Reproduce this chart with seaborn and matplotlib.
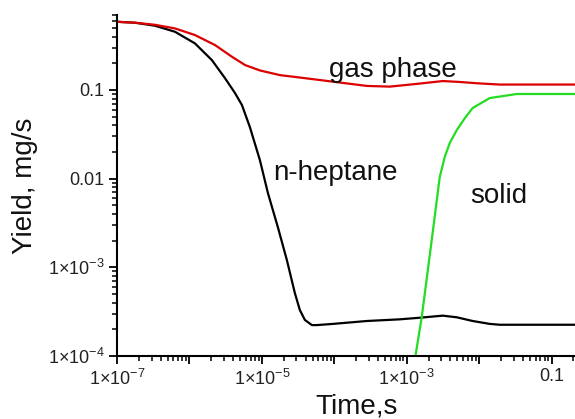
import numpy as np
import pandas as pd
import matplotlib
matplotlib.use('Agg')
import matplotlib.pyplot as plt
import matplotlib.ticker as mticker
import seaborn as sns

sns.set_theme(style='ticks')
plt.rcParams['font.family'] = ['Liberation Sans', 'DejaVu Sans']
plt.rcParams['mathtext.fontset'] = 'custom'
plt.rcParams['mathtext.rm'] = 'Liberation Sans'
plt.rcParams['mathtext.it'] = 'Liberation Sans:italic'
plt.rcParams['mathtext.bf'] = 'Liberation Sans:bold'

# n-heptane (black)
heptane_t = [1e-7, 1.77e-7, 3.34e-7, 6.31e-7, 1.19e-6, 2.04e-6, 3.09e-6, 4.25e-6,
             5.30e-6, 6.82e-6, 9.38e-6, 1.21e-5, 1.66e-5, 2.21e-5, 2.85e-5,
             3.34e-5, 3.92e-5, 4.90e-5, 5.74e-5, 9.53e-5, 2.81e-4, 8.0e-4,
             1.51e-3, 3.14e-3, 4.90e-3, 8.13e-3, 0.014, 0.0192, 0.21]
heptane_y = [0.587, 0.573, 0.530, 0.453, 0.335, 0.217, 0.136, 0.0923,
             0.0676, 0.0382, 0.0162, 0.00689, 0.00284, 0.00121, 5.13e-4,
             3.30e-4, 2.55e-4, 2.23e-4, 2.23e-4, 2.30e-4, 2.48e-4, 2.59e-4,
             2.70e-4, 2.85e-4, 2.73e-4, 2.48e-4, 2.30e-4, 2.25e-4, 2.25e-4]

# gas phase (red)
gas_t = [1e-7, 1.77e-7, 3.34e-7, 6.31e-7, 1.19e-6, 2.25e-6, 3.85e-6, 5.84e-6,
         9.38e-6, 1.77e-5, 3.34e-5, 9.53e-5, 2.81e-4, 5.83e-4, 1.37e-3,
         3.14e-3, 5.38e-3, 9.25e-3, 0.0192, 0.21]
gas_y = [0.587, 0.573, 0.543, 0.494, 0.416, 0.321, 0.237, 0.191,
         0.166, 0.147, 0.138, 0.124, 0.111, 0.109, 0.117,
         0.126, 0.123, 0.119, 0.115, 0.115]

# solid (green)
solid_t = [1.29e-3, 1.61e-3, 2.21e-3, 2.85e-3, 3.34e-3, 3.92e-3, 4.9e-3,
           6.31e-3, 8.1e-3, 0.014, 0.0329, 0.21]
solid_y = [9.0e-5, 2.75e-4, 2.03e-3, 0.0104, 0.0175, 0.0252, 0.0353,
           0.0479, 0.0625, 0.081, 0.090, 0.090]

fig = plt.figure(figsize=(5.75, 4.19), dpi=100)
ax = fig.add_axes([0.2035, 0.1504, 0.7965, 0.8138])

sns.lineplot(x=heptane_t, y=heptane_y, color='black', lw=1.6, ax=ax, sort=False)
sns.lineplot(x=gas_t, y=gas_y, color='#dd0000', lw=1.6, ax=ax, sort=False)
sns.lineplot(x=solid_t, y=solid_y, color='#22dd22', lw=1.6, ax=ax, sort=False)

ax.set_xscale('log')
ax.set_yscale('log')
ax.set_xlim(1e-7, 0.21)
ax.set_ylim(1e-4, 0.7)


def fmt(v, pos, skip_odd=False):
    e = int(round(np.log10(v)))
    if skip_odd and e % 2 == 0:
        return ''
    if e >= -2:
        return '0.1' if e == -1 else '0.01' if e == -2 else f'{v:g}'
    return '1\u00d710$^{%d}$' % e


ax.xaxis.set_major_locator(mticker.LogLocator(base=10, numticks=20))
ax.xaxis.set_minor_locator(mticker.LogLocator(base=10, subs=np.arange(2, 10), numticks=20))
ax.xaxis.set_major_formatter(mticker.FuncFormatter(lambda v, p: fmt(v, p, True)))
ax.xaxis.set_minor_formatter(mticker.NullFormatter())
ax.yaxis.set_major_locator(mticker.LogLocator(base=10, numticks=20))
ax.yaxis.set_minor_locator(mticker.LogLocator(base=10, subs=np.arange(2, 10), numticks=20))
ax.yaxis.set_major_formatter(mticker.FuncFormatter(fmt))
ax.yaxis.set_minor_formatter(mticker.NullFormatter())

sns.despine(ax=ax)
for s in ['left', 'bottom']:
    ax.spines[s].set_linewidth(1.5)
    ax.spines[s].set_color('black')
ax.tick_params(which='major', length=6, width=1.3, color='black', labelsize=13,
               labelcolor='#222222', pad=3)
ax.tick_params(which='minor', length=3.5, width=1.1, color='black')

ax.set_xlabel('Time,s', fontsize=20, color='#111111')
ax.set_ylabel('Yield, mg/s', fontsize=20, color='#111111', labelpad=7)
ax.xaxis.set_label_coords(0.522, -0.11)

ax.text(6.4e-4, 0.14, 'gas phase', fontsize=20, ha='center', va='baseline', color='#111111')
ax.text(1.42e-5, 0.0096, 'n-heptane', fontsize=20, ha='left', va='baseline', color='#111111')
ax.text(7.4e-3, 0.0053, 'solid', fontsize=20, ha='left', va='baseline', color='#111111')

fig.savefig('out.png', dpi=100)
